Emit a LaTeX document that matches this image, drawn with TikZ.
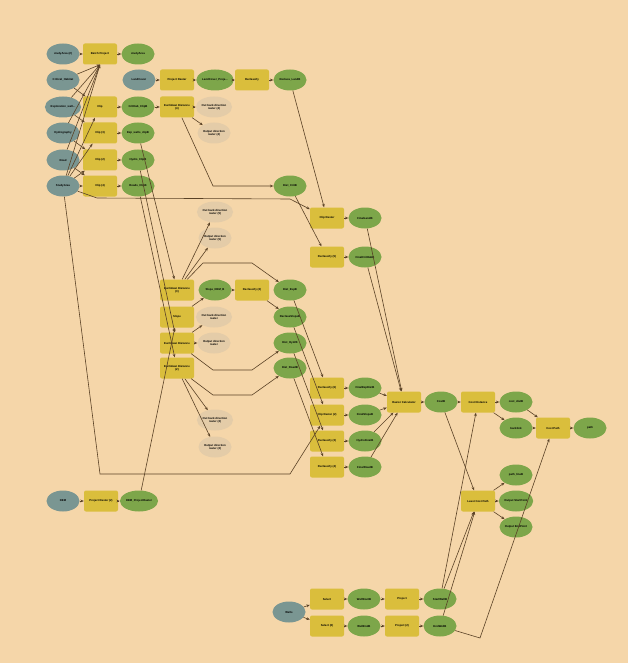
\documentclass[tikz,border=0pt]{standalone}
\usepackage{fontspec}
\setmainfont{Liberation Sans}
\usetikzlibrary{arrows.meta,positioning,shapes.geometric}

\begin{document}
\begin{tikzpicture}[x=1pt,y=-1pt,>=Stealth,
    every node/.style={font=\fontsize{2.8pt}{3.2pt}\selectfont\bfseries, inner sep=0.5pt, align=center, text=black},
    inp/.style={ellipse, fill=inpc, minimum width=33pt, minimum height=21pt},
    tool/.style={rectangle, rounded corners=2pt, fill=toolc, minimum width=34pt, minimum height=21pt},
    outd/.style={ellipse, fill=outc, minimum width=33pt, minimum height=21pt},
    aux/.style={ellipse, fill=auxc, minimum width=33pt, minimum height=21pt},
    lk/.style={draw=ink, line width=0.6pt, -{Stealth[length=3.4pt,width=2.8pt]}}]
  \definecolor{bg}{HTML}{F5D6A9}\definecolor{inpc}{HTML}{7A9692}\definecolor{toolc}{HTML}{DABE3C}
  \definecolor{outc}{HTML}{7DA64A}\definecolor{auxc}{HTML}{E4CCA8}\definecolor{ink}{HTML}{5A4226}
  \fill[bg] (0,0) rectangle (628,663);
  \useasboundingbox (0,0) rectangle (628,663);
  % inputs and clips
  \node[inp] (sa2) at (63,54) {studyArea (2)};
  \node[tool] (bp) at (100,54) {Batch Project};
  \node[outd] (saout) at (138,54) {studyArea};
  \node[inp] (crit) at (63,80) {Critical\_Habitat};
  \node[inp] (expw) at (63,107) {Exploration\_well...};
  \node[inp] (hyd) at (63,133) {Hydrography};
  \node[inp] (road) at (63,160) {Road};
  \node[inp] (stdy) at (63,186) {StudyArea};
  \node[tool] (clip) at (100,107) {Clip};
  \node[tool] (clip3) at (100,133) {Clip (3)};
  \node[tool] (clip2) at (100,160) {Clip (2)};
  \node[tool] (clip4) at (100,186) {Clip (4)};
  \node[outd] (critc) at (138,107) {CritHab\_ClipB};
  \node[outd] (expc) at (138,133) {Exp\_wells\_clipB};
  \node[outd] (hydc) at (138,160) {Hydro\_ClipB};
  \node[outd] (roadc) at (138,186) {Roads\_ClipB};
  % land cover
  \node[inp] (lc) at (139,80) {LandCover};
  \node[tool] (pr) at (177,80) {Project Raster};
  \node[outd] (lcp) at (215,80) {LandCover\_Proje...};
  \node[tool] (rc) at (252,80) {Reclassify};
  \node[outd] (rclc) at (290,80) {Reclass\_LandB};
  % distances
  \node[tool] (ed4) at (177,107) {Euclidean Distance\\(4)};
  \node[aux] (obd4) at (214,107) {Out back direction\\raster (4)};
  \node[aux] (od4) at (214,133) {Output direction\\raster (4)};
  \node[outd] (distcrit) at (290,186) {Dist\_CritB};
  \node[aux] (obd5) at (215,212) {Out back direction\\raster (5)};
  \node[aux] (od5) at (215,238) {Output direction\\raster (5)};
  \node[tool] (ed3) at (177,290) {Euclidean Distance\\(3)};
  \node[outd] (slopedem) at (215,290) {Slope\_DEM\_B};
  \node[tool] (rc2) at (252,290) {Reclassify (2)};
  \node[outd] (distexp) at (290,290) {Dist\_ExpB};
  \node[tool] (slope) at (177,317) {Slope};
  \node[aux] (obd) at (214,317) {Out back direction\\raster};
  \node[outd] (rclslope) at (290,317) {ReclassSlopeB};
  \node[tool] (ed) at (177,343) {Euclidean Distance};
  \node[aux] (od) at (214,343) {Output direction\\raster};
  \node[outd] (disthyd) at (290,343) {Dist\_HydrB};
  \node[tool] (ed2) at (177,368) {Euclidean Distance\\(2)};
  \node[outd] (distroad) at (290,368) {Dist\_RoadB};
  \node[aux] (obd2) at (215,420) {Out back direction\\raster (2)};
  \node[aux] (od2) at (215,447) {Output direction\\raster (2)};
  % reclass and clips
  \node[tool] (cr) at (327,218) {Clip Raster};
  \node[outd] (finland) at (365,218) {FinalLandB};
  \node[tool] (rc5) at (327,257) {Reclassify (5)};
  \node[outd] (fincrit) at (365,257) {FinalCritHabB};
  \node[tool] (rc6) at (327,388) {Reclassify (6)};
  \node[outd] (finexp) at (365,388) {FinalExpDistB};
  \node[tool] (cr2) at (327,415) {Clip Raster (2)};
  \node[outd] (finslope) at (365,415) {FinalSlopeB};
  \node[tool] (rc3) at (327,441) {Reclassify (3)};
  \node[outd] (hydfin) at (365,441) {HydroFinalB};
  \node[tool] (rc4) at (327,467) {Reclassify (4)};
  \node[outd] (finroad) at (365,467) {FinalRoadB};
  % cost
  \node[tool] (rcalc) at (404,402) {Raster Calculator};
  \node[outd] (cost) at (441,402) {CostB};
  \node[tool] (cdist) at (478,402) {Cost Distance};
  \node[outd] (cdout) at (516,402) {cost\_distB};
  \node[outd] (backlink) at (516,428) {backlink};
  \node[tool] (cpath) at (553,428) {Cost Path};
  \node[outd] (path) at (590,428) {path};
  \node[outd] (pathline) at (516,475) {path\_lineB};
  \node[tool] (lcpath) at (478,501) {Least Cost Path};
  \node[outd] (startpt) at (516,501) {Output StartPoint};
  \node[outd] (endpt) at (516,527) {Output EndPoint};
  % dem
  \node[inp] (dem) at (63,501) {DEM};
  \node[tool] (pr2) at (101,501) {Project Raster (2)};
  \node[outd] (demp) at (139,501) {DEM\_ProjectRaster};
  % wells
  \node[inp] (wells) at (289,612) {Wells};
  \node[tool] (sel) at (327,599) {Select};
  \node[outd] (wstart) at (364,599) {WellStartB};
  \node[tool] (proj) at (402,599) {Project};
  \node[outd] (startw) at (440,599) {StartWellB};
  \node[tool] (sel2) at (327,626) {Select (2)};
  \node[outd] (wend) at (364,626) {WellEndB};
  \node[tool] (proj2) at (402,626) {Project (2)};
  \node[outd] (endw) at (440,626) {EndWellB};
  % connectors
  \draw[lk] (sa2) -- (bp);
  \draw[lk] (bp) -- (saout);
  \foreach \src in {crit,expw,hyd,road,stdy} \draw[lk] (\src) -- (bp.south);
  \draw[lk] (crit) -- (clip);
  \draw[lk] (expw) -- (clip3);
  \draw[lk] (hyd) -- (clip2);
  \draw[lk] (road) -- (clip4);
  \foreach \dst in {clip,clip3,clip2,clip4} \draw[lk] (stdy) -- (\dst);
  \draw[lk] (clip) -- (critc);
  \draw[lk] (clip3) -- (expc);
  \draw[lk] (clip2) -- (hydc);
  \draw[lk] (clip4) -- (roadc);
  \draw[lk] (lc) -- (pr);
  \draw[lk] (pr) -- (lcp);
  \draw[lk] (lcp) -- (rc);
  \draw[lk] (rc) -- (rclc);
  \draw[lk] (critc) -- (ed4);
  \draw[lk] (ed4) -- (obd4);
  \draw[lk] (ed4) -- (od4);
  \draw[lk] (ed4) -- (213,186) -- (distcrit);
  \draw[lk] (expc) -- (ed3);
  \draw[lk] (hydc) -- (ed);
  \draw[lk] (roadc) -- (ed2);
  \draw[lk] (ed3) -- (obd5);
  \draw[lk] (ed3) -- (od5);
  \draw[lk] (ed3) -- (203,263) -- (252,263) -- (distexp);
  \draw[lk] (dem) -- (pr2);
  \draw[lk] (pr2) -- (demp);
  \draw[lk] (demp) -- (slope);
  \draw[lk] (slope) -- (slopedem);
  \draw[lk] (slopedem) -- (rc2);
  \draw[lk] (rc2) -- (rclslope);
  \draw[lk] (ed) -- (obd);
  \draw[lk] (ed) -- (od);
  \draw[lk] (ed) -- (213,370) -- (252,370) -- (disthyd);
  \draw[lk] (ed2) -- (obd2);
  \draw[lk] (ed2) -- (od2);
  \draw[lk] (ed2) -- (213,395) -- (252,395) -- (distroad);
  \draw[lk] (rclc) -- (cr);
  \draw[lk] (stdy) -- (97,198) -- (290,199) -- (cr);
  \draw[lk] (cr) -- (finland);
  \draw[lk] (distcrit) -- (rc5);
  \draw[lk] (rc5) -- (fincrit);
  \draw[lk] (distexp) -- (rc6);
  \draw[lk] (rc6) -- (finexp);
  \draw[lk] (rclslope) -- (cr2);
  \draw[lk] (stdy) -- (100,474) -- (290,474) -- (cr2);
  \draw[lk] (cr2) -- (finslope);
  \draw[lk] (disthyd) -- (rc3);
  \draw[lk] (rc3) -- (hydfin);
  \draw[lk] (distroad) -- (rc4);
  \draw[lk] (rc4) -- (finroad);
  \foreach \src in {finland,fincrit,finexp,finslope,hydfin,finroad} \draw[lk] (\src) -- (rcalc);
  \draw[lk] (rcalc) -- (cost);
  \draw[lk] (cost) -- (cdist);
  \draw[lk] (cdist) -- (cdout);
  \draw[lk] (cdist) -- (backlink);
  \draw[lk] (cdout) -- (cpath);
  \draw[lk] (backlink) -- (cpath);
  \draw[lk] (cpath) -- (path);
  \draw[lk] (cost) -- (lcpath);
  \draw[lk] (lcpath) -- (pathline);
  \draw[lk] (lcpath) -- (startpt);
  \draw[lk] (lcpath) -- (endpt);
  \draw[lk] (wells) -- (sel);
  \draw[lk] (wells) -- (sel2);
  \draw[lk] (sel) -- (wstart);
  \draw[lk] (wstart) -- (proj);
  \draw[lk] (proj) -- (startw);
  \draw[lk] (sel2) -- (wend);
  \draw[lk] (wend) -- (proj2);
  \draw[lk] (proj2) -- (endw);
  \draw[lk] (startw) -- (cdist);
  \draw[lk] (startw) -- (lcpath);
  \draw[lk] (endw) -- (lcpath);
  \draw[lk] (endw) -- (480,638) -- (cpath);
\end{tikzpicture}
\end{document}
